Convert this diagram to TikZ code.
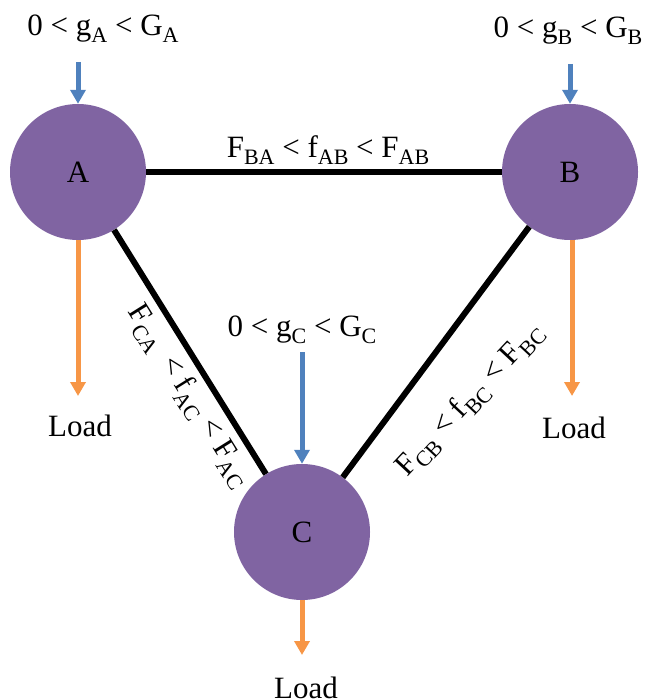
\documentclass[tikz,border=0pt]{standalone}
\usepackage{fontspec}
\setmainfont{Liberation Serif}
\usetikzlibrary{arrows.meta}
\definecolor{nodepurple}{HTML}{8064A2}
\definecolor{gblue}{HTML}{4F81BD}
\definecolor{lorange}{HTML}{F79646}
\newcommand{\lsub}[1]{\raisebox{-0.5ex}{\fontsize{22}{22}\selectfont #1}}
\begin{document}
\begin{tikzpicture}[x=1pt,y=-1pt,
  bus/.style={circle,fill=nodepurple,minimum size=136pt,inner sep=0pt,font=\fontsize{31}{31}\selectfont},
  lbl/.style={font=\fontsize{31}{31}\selectfont,inner sep=0pt},
  line/.style={line width=6pt,black},
  genarrow/.style={draw=gblue,line width=5pt,-{Triangle[width=15pt,length=14pt]}},
  loadarrow/.style={draw=lorange,line width=5pt,-{Triangle[width=15pt,length=14pt]}}]
\useasboundingbox (0,0) rectangle (647,700);
\node[bus] (A) at (78,172) {A};
\node[bus] (B) at (570,172) {B};
\node[bus] (C) at (302,532) {C};
\draw[line] (A) -- (B);
\draw[line] (A) -- (C);
\draw[line] (B) -- (C);
% generation labels and arrows
\node[lbl] (gA) at (103,29) {0 < g\lsub{A} < G\lsub{A}};
\node[lbl] (gB) at (568,31) {0 < g\lsub{B} < G\lsub{B}};
\node[lbl] (gC) at (302,330) {0 < g\lsub{C} < G\lsub{C}};
\coordinate (gAs) at (78,62);
\coordinate (gBs) at (570,64);
\coordinate (gCs) at (302,352);
\draw[genarrow] (gAs) -- (A.north);
\draw[genarrow] (gBs) -- (B.north);
\draw[genarrow] (gCs) -- (C.north);
% loads
\node[lbl] (LA) at (80,426) {Load};
\node[lbl] (LB) at (574,428) {Load};
\node[lbl] (LC) at (306,688) {Load};
\coordinate (lAe) at (78,396);
\coordinate (lBe) at (572,396);
\coordinate (lCe) at (302,655);
\draw[loadarrow] (A.south) -- (lAe);
\draw[loadarrow] ([xshift=2pt]B.south) -- (lBe);
\draw[loadarrow] (C.south) -- (lCe);
% flow labels
\node[lbl] (fAB) at (328,150) {F\lsub{BA} < f\lsub{AB} < F\lsub{AB}};
\node[lbl,rotate=-58] (fAC) at (189,396) {F\lsub{CA}\, < f\lsub{AC} < F\lsub{AC}};
\node[lbl,rotate=47] (fBC) at (470,400) {F\lsub{CB} < f\lsub{BC} < F\lsub{BC}};
\end{tikzpicture}
\end{document}
